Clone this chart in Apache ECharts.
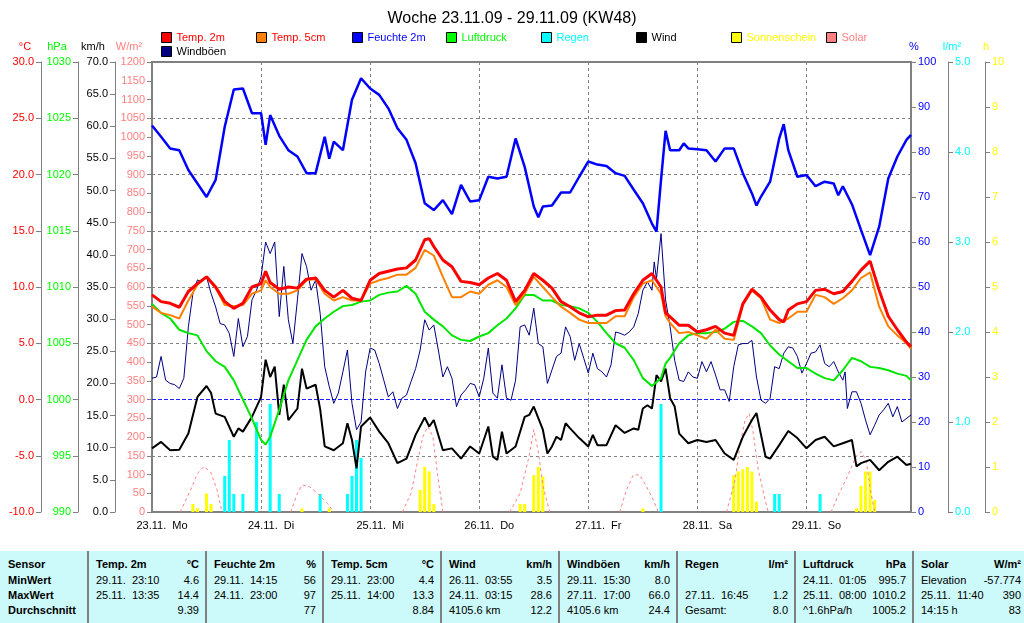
<!DOCTYPE html>
<html><head><meta charset="utf-8">
<script src="https://cdn.jsdelivr.net/npm/echarts/dist/echarts.min.js"></script>
<style>
html,body{margin:0;padding:0;background:#fff;}
#chart{position:absolute;left:0;top:0;width:1024px;height:623px;}
#tbl{position:absolute;left:0;top:551px;width:1024px;height:72px;background:#ccf9f9;font-family:"Liberation Sans",Arial,sans-serif;font-size:11px;color:#000;}
.col{position:absolute;top:0;height:72px;}
.sep{position:absolute;top:0;width:2px;height:72px;background:#808080;}
.row{position:absolute;left:0;right:0;height:15px;line-height:15px;display:flex;justify-content:space-between;white-space:pre;}
.b{font-weight:bold;}
</style></head>
<body>
<div id="chart"></div>
<div id="tbl"></div>
<script>
const FONT = '"Liberation Sans", Arial, sans-serif';

const days = ['23.11.  Mo','24.11.  Di','25.11.  Mi','26.11.  Do','27.11.  Fr','28.11.  Sa','29.11.  So'];

// hours since 23.11. 00:00, value
const temp2m = [[0,9.3],[2,8.7],[4,8.55],[6,8.2],[8,9.6],[10,10.3],[12,10.9],[14,10.0],[16,8.7],[18,8.1],[20,8.55],[22,10.0],[24,10.3],[25,11.4],[26,10.4],[28,9.8],[30,10.0],[32,9.9],[34,10.7],[36,10.8],[38,9.7],[40,9.1],[42,9.7],[44,9.0],[46,8.8],[48,10.6],[50,11.2],[52,11.4],[54,11.6],[56,11.7],[58,12.4],[60,14.2],[61,14.3],[62,13.6],[64,12.4],[66,11.8],[68,10.5],[70,10.4],[72,10.2],[74,10.8],[76,11.2],[78,10.6],[80,8.7],[82,9.7],[84,11.2],[86,10.6],[88,9.9],[90,8.7],[92,8.25],[94,7.7],[96,7.35],[98,7.5],[100,7.5],[102,7.9],[104,7.95],[106,9.4],[108,10.6],[110,11.2],[112,10.0],[113,7.7],[114,7.35],[116,6.6],[118,6.6],[120,6.0],[122,6.2],[124,6.5],[126,5.9],[128,5.7],[130,8.5],[132,9.8],[134,9.1],[136,7.95],[138,7.1],[139,6.9],[140,7.95],[142,8.5],[144,8.7],[146,9.7],[148,9.8],[150,9.4],[152,9.6],[154,10.5],[156,11.5],[158,12.3],[160,9.7],[162,7.4],[164,6.2],[166,5.1],[167,4.7]];

const temp5cm = [[0,8.25],[2,7.7],[4,7.5],[6,7.2],[8,8.8],[10,10.2],[12,10.9],[14,9.9],[16,8.4],[18,8.3],[20,8.4],[22,9.4],[24,9.7],[25,10.6],[26,10.0],[28,9.4],[30,9.4],[32,9.7],[34,10.6],[36,10.7],[38,9.4],[40,8.8],[42,9.1],[44,8.8],[46,8.8],[48,10.3],[50,10.6],[52,10.8],[54,11.1],[56,11.1],[58,11.7],[60,13.3],[62,12.8],[64,10.9],[66,9.1],[68,9.1],[70,9.6],[72,9.4],[74,10.2],[76,10.6],[78,10.0],[80,8.4],[82,9.4],[84,10.9],[86,10.0],[88,9.1],[90,8.25],[92,7.7],[94,7.1],[96,6.8],[98,6.8],[100,6.8],[102,7.4],[104,7.4],[106,9.1],[108,10.3],[110,10.6],[112,9.4],[113,7.4],[114,6.8],[116,5.9],[118,6.0],[120,5.7],[122,5.4],[124,6.2],[126,5.4],[128,5.3],[130,8.4],[132,9.7],[134,9.0],[136,7.1],[138,6.8],[140,7.2],[142,7.8],[144,7.8],[146,9.3],[148,9.1],[150,8.5],[152,9.0],[154,9.7],[156,10.8],[158,11.3],[160,8.25],[162,6.5],[164,5.7],[166,5.0],[167,4.5]];

const humidity = [[0,85.9],[2,83.4],[4,80.8],[6,80.4],[8,76],[10,73],[12,70],[14,73.8],[16,85.6],[18,93.9],[20,94.1],[22,88.6],[24,88.6],[25,81.6],[26,88.2],[28,83.6],[30,80.4],[32,79],[34,75.3],[36,75.3],[38,83.4],[39,78.5],[40,82.3],[42,80.4],[44,91.6],[46,96.4],[48,94.1],[50,92.7],[52,89.7],[54,85.3],[56,82.7],[58,77.5],[60,68.6],[62,67.1],[64,69.3],[66,66.2],[68,72.7],[70,69],[72,69.3],[74,74.5],[76,74.1],[78,74.5],[80,83],[82,76.7],[84,67.9],[85,65.5],[86,67.9],[88,68.1],[90,71],[92,71],[94,74.5],[96,77.9],[98,77.2],[100,76.9],[102,75.3],[104,74.7],[106,71.6],[108,68.6],[110,64.1],[111,62.3],[112,73.8],[113,84.7],[114,80.4],[116,80.4],[117,81.9],[118,80.8],[120,80.6],[122,80.4],[124,77.9],[126,80.8],[128,80.8],[130,75.3],[132,70.8],[133,68.1],[134,70.1],[136,73.4],[138,83],[139,86.2],[140,80.4],[142,74.5],[144,74.9],[146,72.4],[148,73.4],[150,73],[151,70.4],[152,72.4],[154,68.4],[156,62.7],[158,57.1],[160,63.4],[162,74.1],[164,79],[166,82.7],[167,83.8]];

const pressure = [[0,1008.5],[2,1007.7],[4,1007.2],[6,1006.2],[8,1005.9],[10,1005.7],[12,1004.3],[14,1003.4],[16,1002.9],[18,1001.7],[20,1000.0],[22,998.3],[24,996.4],[25,996.0],[26,996.7],[28,999.1],[30,1001.7],[32,1003.5],[34,1005.3],[36,1006.5],[38,1007.2],[40,1007.8],[42,1008.3],[44,1008.4],[46,1008.7],[48,1008.8],[50,1009.3],[52,1009.5],[54,1009.6],[56,1010.1],[58,1009.4],[60,1007.8],[62,1007.1],[64,1006.5],[66,1005.7],[68,1005.3],[70,1005.2],[72,1005.6],[74,1005.9],[76,1006.6],[78,1007.2],[80,1008.1],[82,1009.3],[84,1009.3],[86,1008.8],[88,1008.8],[90,1008.4],[92,1008.3],[94,1008.1],[96,1007.7],[98,1006.9],[100,1005.9],[102,1005.0],[104,1004.6],[106,1003.5],[108,1001.9],[110,1001.2],[112,1001.9],[113,1003.2],[114,1003.7],[116,1005.0],[118,1005.7],[120,1005.9],[122,1005.9],[124,1006.0],[126,1006.3],[128,1006.9],[130,1007.0],[132,1006.5],[134,1005.9],[136,1004.8],[138,1004.0],[140,1003.4],[142,1002.8],[144,1002.8],[146,1002.3],[148,1001.9],[150,1001.7],[152,1002.6],[154,1003.7],[156,1003.4],[158,1002.9],[160,1002.8],[162,1002.6],[164,1002.3],[166,1002.1],[167,1001.7]];

const wind = [[0,9.9],[2,10.9],[4,9.6],[6,9.7],[8,12.2],[10,17.9],[12,19.6],[13,18.5],[14,15.3],[16,14.8],[18,11.7],[19,13],[20,12.5],[22,14.8],[24,17.9],[25,23.7],[26,21.0],[27,22.6],[28,15.1],[29,19.8],[30,14.3],[32,16.1],[33,22.3],[34,19.2],[36,19.8],[37,16],[38,10.2],[40,9.6],[42,10.7],[43,13.8],[44,11.2],[45,6.8],[46,13.3],[48,14.7],[50,12.5],[52,10.7],[54,7.6],[56,8.3],[58,12],[60,14.7],[61,13.3],[62,14.3],[64,9.6],[66,9.9],[68,8.3],[70,10.2],[72,9.1],[74,13.3],[75,8.6],[76,8.1],[77,12.5],[78,9.1],[80,10.2],[82,14.8],[83,15.1],[84,16.4],[86,12.8],[87,9.1],[88,10.2],[89,11.7],[90,11.2],[91,13.8],[92,13.0],[94,11.5],[96,10.2],[97,12],[98,10.4],[100,10.4],[102,13.5],[104,12.3],[106,13.0],[107,12.8],[108,16.1],[109,16.6],[110,16.1],[111,21.3],[112,20.3],[113,22.3],[114,17.7],[115,16.4],[116,12.2],[118,10.7],[120,11.2],[122,10.9],[124,11.2],[126,9.1],[128,8.1],[130,11.7],[132,14.3],[133,15.4],[134,12.0],[135,8.6],[136,8.3],[138,10.4],[140,12.6],[142,11.5],[144,9.9],[146,11.2],[148,11.7],[150,10.2],[152,10.7],[154,11.2],[155,7.1],[156,7.6],[158,8.1],[160,6.5],[162,7.8],[164,8.6],[166,7.3],[167,7.5]];

const gusts = [[0,20.8],[1,21],[2,24.2],[3,20.5],[4,20],[5,19.8],[6,19.2],[7,20.8],[8,28.8],[9,34],[10,36.1],[11,35.8],[12,36.6],[13,34],[14,31.9],[15,29.3],[16,29.1],[17,27.8],[18,24.2],[19,30.1],[20,25.7],[21,27.3],[22,33],[23,34.5],[24,36.6],[25,42],[26,40.2],[27,42],[28,30.4],[29,38.2],[30,29.9],[31,26.2],[32,33],[33,40.2],[34,38.2],[35,34.5],[36,36.1],[37,30.9],[38,22.6],[39,19.5],[40,16.9],[41,18.5],[42,21.8],[43,25.2],[44,16.9],[45,12.8],[46,14],[47,21.8],[48,25.5],[49,25.2],[50,23.1],[51,20.5],[52,17.9],[53,18.7],[54,16.1],[55,17.7],[56,18.2],[57,20.3],[58,22.3],[59,25.2],[60,29.9],[61,28.3],[62,29.1],[63,25.2],[64,21],[65,22.6],[66,20.8],[67,16.4],[68,18.2],[69,19],[70,20],[71,19.8],[72,17.9],[73,20.8],[74,25.5],[75,18.5],[76,17.7],[77,22.9],[78,17.7],[79,17.4],[80,20.5],[81,28.8],[82,29.1],[83,27.5],[84,31.7],[85,26.2],[86,25.7],[87,20],[88,22.1],[89,24.2],[90,24.7],[91,28.8],[92,27.3],[93,23.6],[94,26.2],[95,23.9],[96,21.6],[97,24.7],[98,22.3],[99,21.8],[100,21],[101,22.9],[102,28],[103,27.8],[104,27.5],[105,28],[106,28.8],[107,30.9],[108,34.5],[109,35.8],[110,34.5],[110.5,38.9],[111,36.3],[112,43.3],[113,33],[114,28.8],[115,23.6],[116,20.5],[117,20.3],[118,21.8],[119,21],[120,20.8],[121,23.4],[122,21.8],[123,23.4],[124,21.3],[125,19],[126,19],[127,17.2],[128,22.6],[129,26],[130,26.2],[131,26.2],[132,26.7],[133,21],[134,17.4],[135,16.9],[136,17.7],[137,22.6],[138,22.3],[139,24.7],[140,25.7],[141,25.5],[142,24.2],[143,21.6],[144,23.1],[145,24.7],[146,24.9],[147,26],[148,23.1],[149,22.6],[150,23.4],[151,21.8],[152,20.5],[152.5,21.8],[153,16.1],[154,18.7],[155,18.7],[156,16.9],[157,14.3],[158,12],[159,13.5],[160,15.1],[161,15.9],[162,16.9],[163,14.8],[164,16.4],[165,14],[167,15.1]];

const rain = [[16,0.4],[17,0.8],[18,0.2],[20,0.2],[23,1.0],[26,1.2],[28,0.2],[37,0.2],[43,0.2],[44,0.4],[45,0.8],[46,0.6],[112,1.2],[137,0.2],[138,0.2],[147,0.2]];

const sunshine = [[9,0.18],[10,0.08],[12,0.41],[13,0.18],[33,0.08],[39,0.08],[59,0.49],[60,1.0],[61,0.9],[62,0.18],[81,0.18],[82,0.18],[84,0.82],[85,1.0],[86,0.79],[108,0.08],[128,0.82],[129,0.9],[130,0.95],[131,1.0],[132,0.9],[133,0.23],[155,0.08],[156,0.58],[157,0.9],[158,0.9],[159,0.27]];

const solar = [[6.2,0],[8.5,59],[10,103],[11.4,121],[12.9,107],[14.3,59],[15.4,0],[15.5,null],[30.5,0],[32,50],[33,72],[34.6,68],[36.4,50],[38.6,23],[40,0],[40.1,null],[55.1,0],[57,50],[58.5,139],[59.6,201],[60.7,228],[61.8,201],[62.9,94],[64,0],[64.1,null],[78.7,0],[81,50],[82,100],[83,150],[84,220],[85,160],[86,70],[87.5,0],[87.6,null],[102.9,0],[104.4,59],[105.9,99],[107.3,99],[108.8,68],[110.3,32],[111.4,0],[111.5,null],[126.4,0],[128.3,85],[129.4,183],[130.5,245],[131.4,263],[132.3,210],[133.4,112],[134.9,32],[135.6,0],[135.7,null],[149.4,0],[151.2,50],[153,94],[154.9,148],[156,161],[157.1,139],[158.2,50],[159,0]];

// frost reference line (0 °C) across the whole week
const frostLine = [[0,0],[167,0]];

// statistics table
const tableHead = [['Sensor',''],['Temp. 2m','°C'],['Feuchte 2m','%'],['Temp. 5cm','°C'],['Wind','km/h'],['Windböen','km/h'],['Regen','l/m²'],['Luftdruck','hPa'],['Solar','W/m²']];
const rowLabels = ['MinWert','MaxWert','Durchschnitt'];
const tableMin = [['29.11.  23:10','4.6'],['29.11.  14:15','56'],['29.11.  23:00','4.4'],['26.11.  03:55','3.5'],['29.11.  15:30','8.0'],['',''],['24.11.  01:05','995.7'],['Elevation','-57.774']];
const tableMax = [['25.11.  13:35','14.4'],['24.11.  23:00','97'],['25.11.  14:00','13.3'],['24.11.  03:15','28.6'],['27.11.  17:00','66.0'],['27.11.  16:45','1.2'],['25.11.  08:00','1010.2'],['25.11.  11:40','390']];
const tableAvg = [['','9.39'],['','77'],['','8.84'],['4105.6 km','12.2'],['4105.6 km','24.4'],['Gesamt:','8.0'],['^1.6hPa/h','1005.2'],['14:15 h','83']];

// ---------- table ----------
(function(){
  const edges = [0,88,206,323,441,559,677,795,913,1024];
  const tops = [6,22,37,52];
  const tbl = document.getElementById('tbl');
  let html = '';
  for (let i = 1; i < edges.length - 1; i++) html += '<div class="sep" style="left:' + (edges[i]-1) + 'px"></div>';
  for (let c = 0; c < 9; c++) {
    const l = c === 0 ? 8 : edges[c] + 8, r = edges[c+1] - (c === 8 ? 3 : 7);
    let inner = '<div class="row b" style="top:' + tops[0] + 'px"><span>' + tableHead[c][0] + '</span><span>' + tableHead[c][1] + '</span></div>';
    for (let k = 0; k < 3; k++) {
      if (c === 0) {
        inner += '<div class="row b" style="top:' + tops[k+1] + 'px"><span>' + rowLabels[k] + '</span></div>';
      } else {
        const src = [tableMin, tableMax, tableAvg][k][c-1];
        inner += '<div class="row" style="top:' + tops[k+1] + 'px"><span>' + src[0] + '</span><span>' + src[1] + '</span></div>';
      }
    }
    html += '<div class="col" style="left:' + l + 'px;width:' + (r - l) + 'px">' + inner + '</div>';
  }
  tbl.innerHTML = html;
})();

// ---------- chart ----------
const chart = echarts.init(document.getElementById('chart'), null, {renderer: 'canvas'});

function yAx(pos, off, min, max, step, col, name, dec, shift, lw) {
  return {
    type: 'value', position: pos, offset: off, min: min, max: max, interval: step,
    name: name, nameLocation: 'end', nameGap: 10, nameMoveOverlap: false,
    nameTextStyle: {color: col, fontSize: 11, fontFamily: FONT, align: 'center',
      padding: shift >= 0 ? [0, 0, 0, shift * 2] : [0, -shift * 2, 0, 0]},
    axisLine: {show: true, onZero: false, lineStyle: {color: '#808080', width: lw}},
    axisTick: {show: true, length: 5, lineStyle: {color: '#808080'}},
    axisLabel: {color: col, fontSize: 11, fontFamily: FONT, margin: 7, formatter: v => v.toFixed(dec)},
    splitLine: {show: false}
  };
}

const yAxes = [
  yAx('left', 111, -10, 30, 5, '#ff0000', '°C', 1, -16, 1),
  yAx('left', 74, 990, 1030, 5, '#00ff00', 'hPa', 0, -21, 1),
  yAx('left', 37, 0, 70, 5, '#000000', 'km/h', 1, -22, 1),
  yAx('left', 0, 0, 1200, 50, '#ff8080', 'W/m²', 0, -23, 2),
  yAx('right', 0, 0, 100, 10, '#0000ff', '%', 0, 3, 2),
  yAx('right', 37, 0, 5, 1, '#00ffff', 'l/m²', 1, 4, 1),
  yAx('right', 74, 0, 10, 1, '#ffff00', 'h', 0, 1, 1)
];
const G = '#808080', NONE = 'rgba(0,0,0,0)';
yAxes[0].splitLine = {show: true, lineStyle: {type: [3, 3], width: 1, color: [G, G, NONE, G, G, G, G, G, G]}};

const legendItems = [
  ['Temp. 2m', '#ff0000', '#ff0000', 161, 32],
  ['Temp. 5cm', '#ff8000', '#ff0000', 256, 32],
  ['Feuchte 2m', '#0000ff', '#0000ff', 352, 32],
  ['Luftdruck', '#00ff00', '#00ff00', 446, 32],
  ['Regen', '#00ffff', '#00ffff', 541, 32],
  ['Wind', '#000000', '#000000', 636, 32],
  ['Sonnenschein', '#ffff00', '#ffff00', 731, 32],
  ['Solar', '#ff8080', '#ff8080', 826, 32],
  ['Windböen', '#000080', '#000000', 161, 46]
];
const legends = legendItems.map(it => ({
  left: it[3], top: it[4], padding: 0, itemWidth: 10, itemHeight: 10, itemGap: 0,
  selectedMode: false, orient: 'horizontal',
  textStyle: {fontSize: 11, fontFamily: FONT, color: it[2]},
  data: [{name: it[0], icon: 'rect', itemStyle: {color: it[1], borderColor: '#000', borderWidth: 1}, textStyle: {color: it[2]}}]
}));

function lineS(name, data, yi, color, w, type) {
  return {name: name, type: 'line', data: data, yAxisIndex: yi, symbol: 'none', showSymbol: false,
    color: color, lineStyle: {color: color, width: w, type: type || 'solid'}, connectNulls: false,
    animation: false, silent: true};
}

const option = {
  animation: false,
  backgroundColor: '#ffffff',
  title: {text: 'Woche 23.11.09 - 29.11.09 (KW48)', left: 'center', top: 6,
    textStyle: {fontSize: 16, fontWeight: 'normal', color: '#000', fontFamily: FONT}},
  legend: legends,
  grid: {left: 152, right: 113, top: 62, bottom: 111, show: true, borderColor: '#808080', borderWidth: 2,
    containLabel: false, outerBoundsMode: 'none'},
  xAxis: {type: 'value', min: 0, max: 167, interval: 24,
    axisLine: {show: false},
    axisTick: {show: true, length: 3, lineStyle: {color: '#808080'}},
    splitLine: {show: true, lineStyle: {color: '#808080', type: [3, 3], width: 1}},
    axisLabel: {margin: 8, showMaxLabel: false,
      formatter: v => (v % 24 === 0 && v / 24 < days.length) ? '{a|' + days[v / 24] + '}' : '',
      rich: {a: {padding: [0, 0, 0, 20], fontSize: 11, color: '#000', fontFamily: FONT}}}},
  yAxis: yAxes,
  series: [
    lineS('frost', frostLine, 0, '#2020ff', 1.2, [4, 2]),
    {name: 'Sonnenschein', type: 'bar', data: sunshine, yAxisIndex: 6, barWidth: 3, barGap: '-100%',
      color: '#ffff00', itemStyle: {color: '#ffff00'}, animation: false, silent: true},
    {name: 'Regen', type: 'bar', data: rain, yAxisIndex: 5, barWidth: 3, barGap: '-100%',
      color: '#00ffff', itemStyle: {color: '#00ffff'}, animation: false, silent: true},
    lineS('Solar', solar, 3, '#ff8080', 1, [3, 3]),
    lineS('Windböen', gusts, 2, '#000080', 1),
    lineS('Wind', wind, 2, '#000000', 2),
    lineS('Luftdruck', pressure, 1, '#00e600', 2),
    lineS('Feuchte 2m', humidity, 4, '#0000ff', 2.5),
    lineS('Temp. 5cm', temp5cm, 0, '#ff8000', 2),
    lineS('Temp. 2m', temp2m, 0, '#ff0000', 3)
  ]
};
chart.setOption(option);
</script>
</body></html>
